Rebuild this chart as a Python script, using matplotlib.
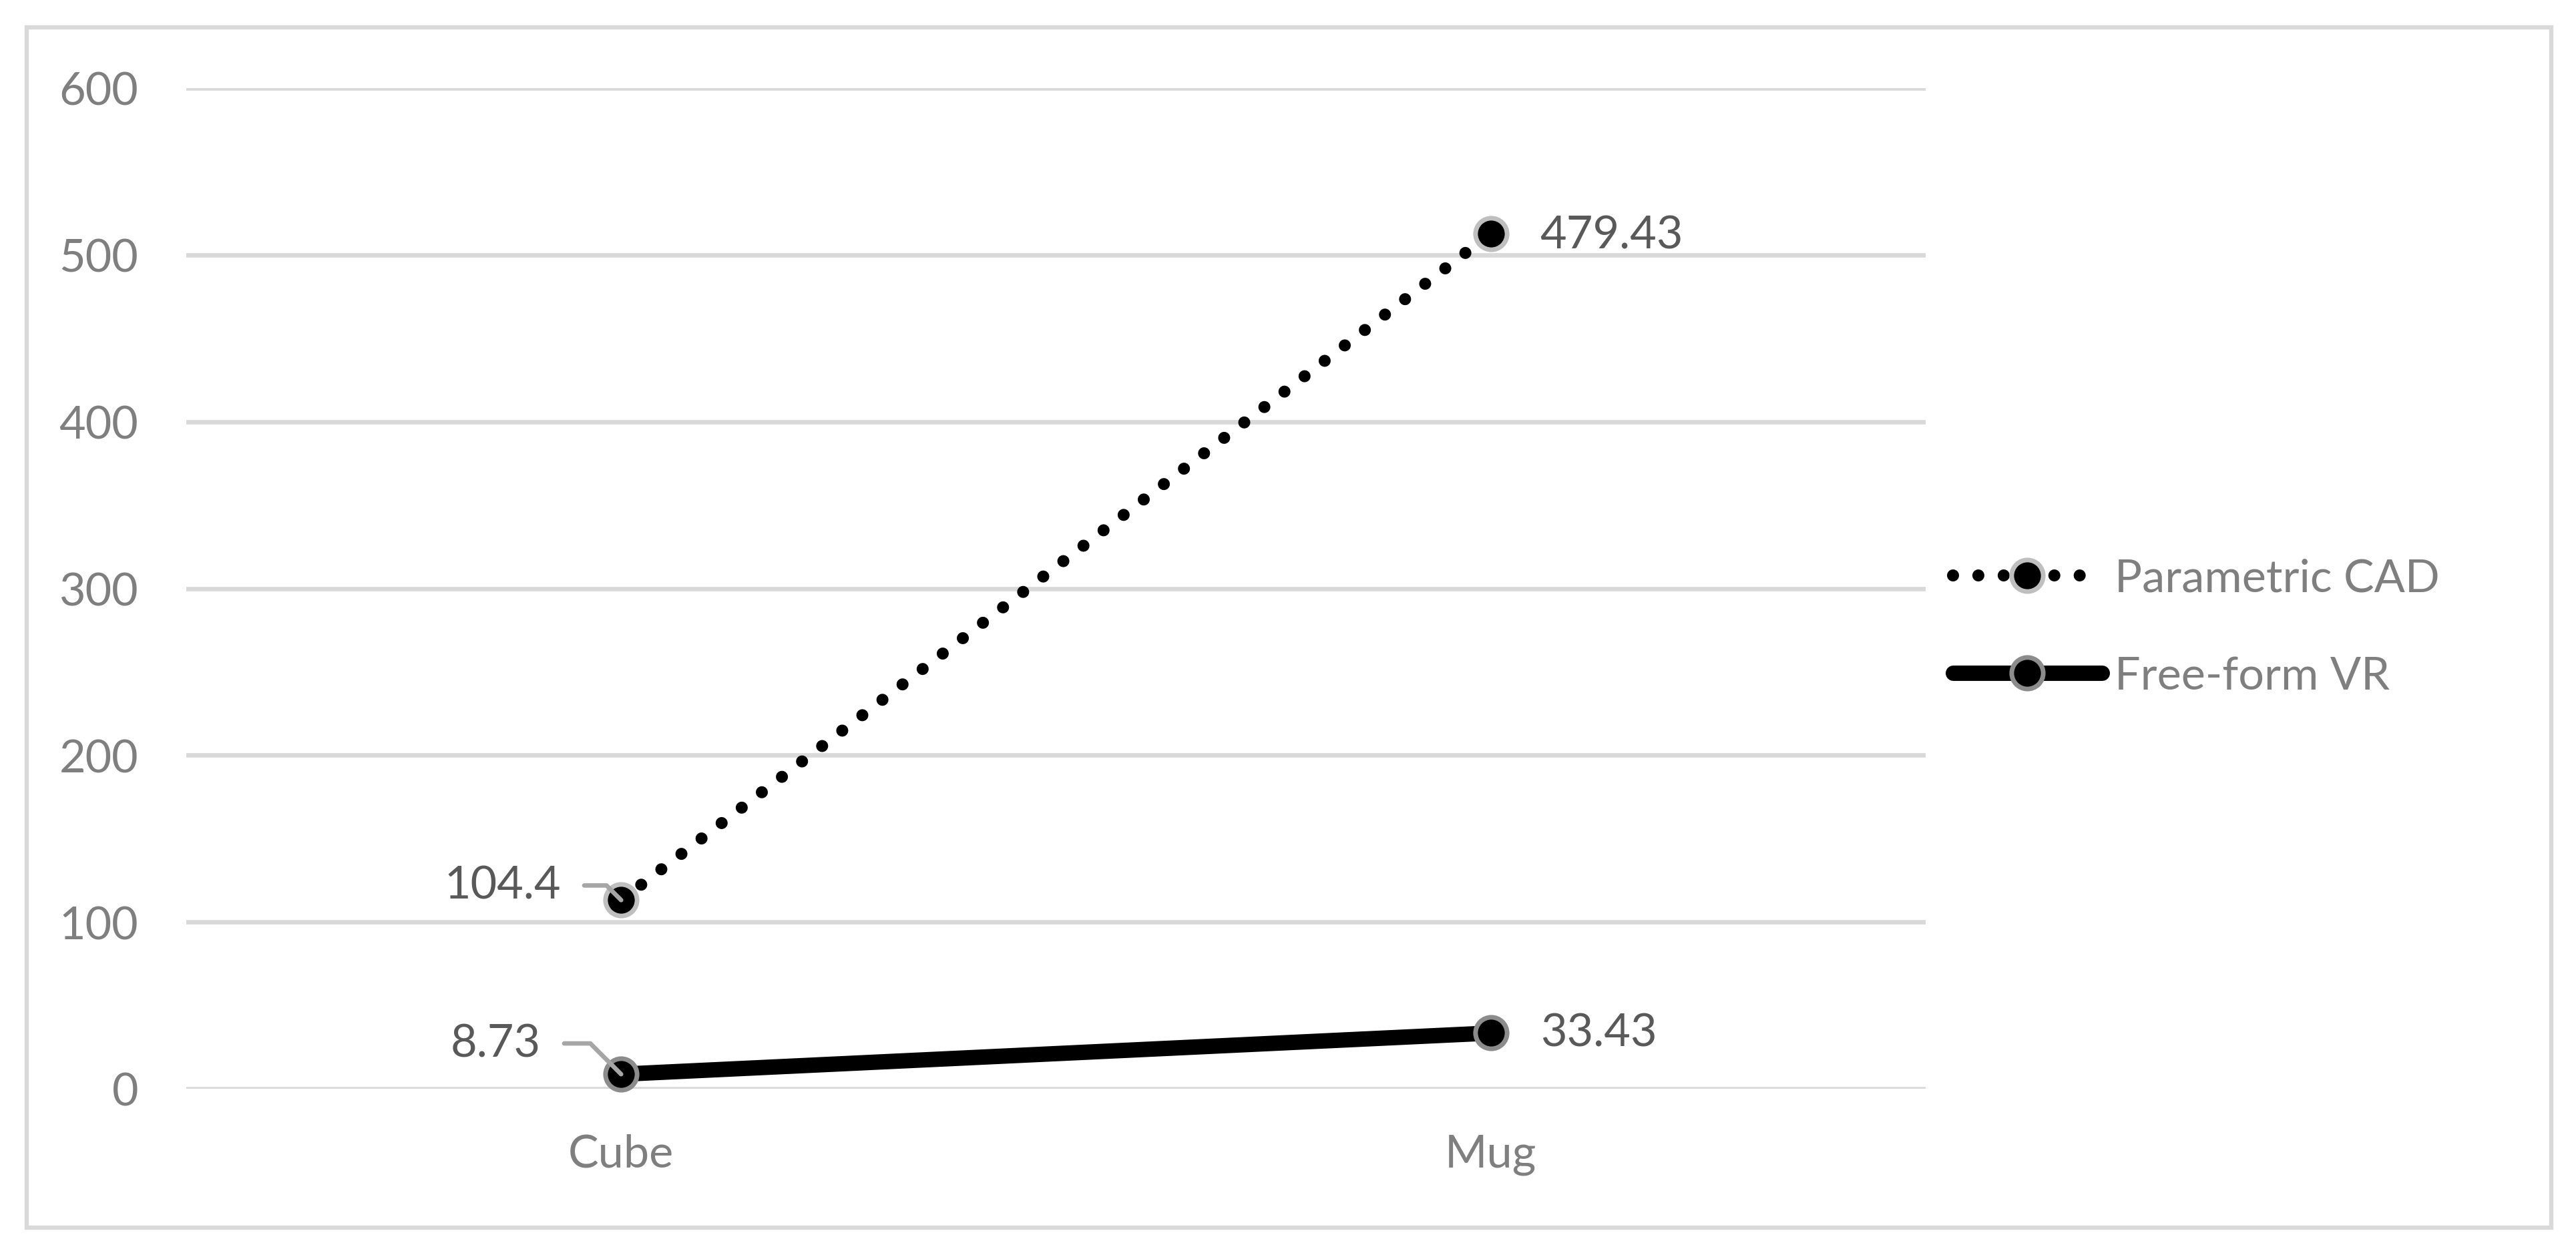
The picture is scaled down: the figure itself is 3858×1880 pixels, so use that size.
import numpy as np
import matplotlib
matplotlib.use('Agg')
import matplotlib.pyplot as plt
from matplotlib.patches import Rectangle

# data (stacked line chart: Parametric CAD sits on top of Free-form VR)
categories = ['Cube', 'Mug']
series_names = ['Parametric CAD', 'Free-form VR']
vr_values = np.array([8.73, 33.43])
cad_values = np.array([104.4, 479.43])
y_ticks = [0, 100, 200, 300, 400, 500, 600]

plt.rcParams['font.family'] = ['Lato', 'DejaVu Sans']

W, H, DPI = 3858, 1881, 200
fig = plt.figure(figsize=(W / DPI, H / DPI), dpi=DPI)
fig.patch.set_facecolor('white')

# outer chart border
fig.patches.append(Rectangle((40 / W, 1 - 1840 / H), (3821 - 40) / W, (1840 - 42) / H,
                             transform=fig.transFigure, fill=False,
                             edgecolor='#D9D9D9', linewidth=2.3))

ax = fig.add_axes([279 / W, 1 - 1632 / H, (2884 - 279) / W, (1632 - 133) / H])
x = np.arange(len(categories))
cad_stacked = vr_values + cad_values

fs = 24.6
tick_color = '#7F7F7F'
label_color = '#595959'

ax.plot(x, cad_stacked, color='black', linewidth=6.5,
        linestyle=(0, (0.001, 2.1)), dash_capstyle='round',
        marker='o', markersize=17, markerfacecolor='black',
        markeredgecolor='#BFBFBF', markeredgewidth=2.5,
        label=series_names[0], zorder=3, clip_on=False)
ax.plot(x, vr_values, color='black', linewidth=8.3, solid_capstyle='round',
        marker='o', markersize=17, markerfacecolor='black',
        markeredgecolor='#8C8C8C', markeredgewidth=2.5,
        label=series_names[1], zorder=3, clip_on=False)

ax.set_xlim(-0.5, len(categories) - 0.5)
ax.set_ylim(0, 600)
ax.set_yticks(y_ticks)
ax.set_xticks(x)
ax.set_xticklabels(categories)
ax.tick_params(axis='y', length=0, pad=25.9, labelsize=fs, labelcolor=tick_color)
ax.tick_params(axis='x', length=0, pad=24, labelsize=fs, labelcolor=tick_color)
ax.grid(axis='y', color='#D9D9D9', linewidth=2.4)
ax.set_axisbelow(True)
for s in ax.spines.values():
    s.set_visible(False)

leader = dict(arrowstyle='-', color='#A6A6A6', lw=2.4,
              connectionstyle='angle,angleA=0,angleB=-45,rad=0',
              shrinkA=10.5, shrinkB=0, relpos=(1, 0.5))

# Cube labels (left of point, with leader lines)
ax.annotate(f'{cad_values[0]:g}', xy=(x[0], cad_stacked[0]), xytext=(-32.4, 7.9),
            textcoords='offset points', ha='right', va='center', fontsize=fs,
            color=label_color, arrowprops=leader, zorder=4)
ax.annotate(f'{vr_values[0]:g}', xy=(x[0], vr_values[0]), xytext=(-43.2, 16.6),
            textcoords='offset points', ha='right', va='center', fontsize=fs,
            color=label_color, arrowprops=leader, zorder=4)
# Mug labels (right of point)
ax.annotate(f'{cad_values[1]:g}', xy=(x[1], cad_stacked[1]), xytext=(26.3, -1),
            textcoords='offset points', ha='left', va='center', fontsize=fs,
            color=label_color)
ax.annotate(f'{vr_values[1]:g}', xy=(x[1], vr_values[1]), xytext=(26.6, 0),
            textcoords='offset points', ha='left', va='center', fontsize=fs,
            color=label_color)

leg = fig.legend(loc='center left', bbox_to_anchor=(2925 / W, 1 - 940.5 / H),
                 frameon=False, fontsize=fs, handlelength=3.26, handletextpad=0.28,
                 labelspacing=1.23, borderpad=0, borderaxespad=0, numpoints=1)
for t in leg.get_texts():
    t.set_color(tick_color)

fig.savefig('out.png', dpi=DPI, facecolor='white')
